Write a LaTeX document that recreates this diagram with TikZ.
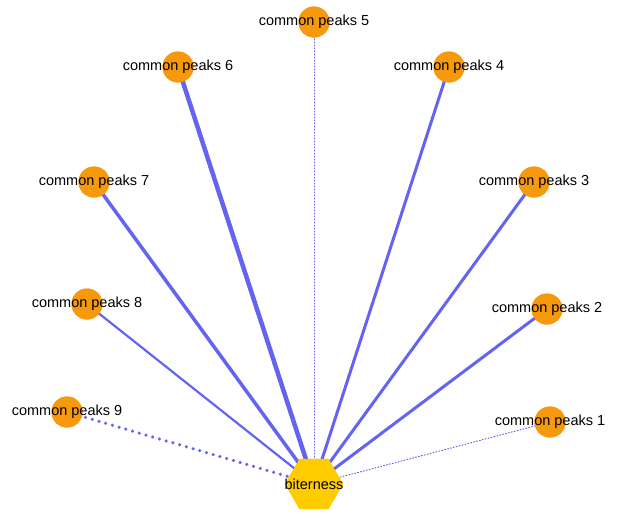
\documentclass[tikz,border=0pt]{standalone}
\usepackage{fontspec}
\setmainfont{Liberation Sans}
\usetikzlibrary{shapes.geometric}
\definecolor{edgeblue}{HTML}{6464F0}
\definecolor{peakorange}{HTML}{F7990C}
\definecolor{hubyellow}{HTML}{FFCC00}
\begin{document}
\begin{tikzpicture}[x=1pt,y=-1pt,font=\fontsize{14.5}{17}\selectfont,
    peak/.style={circle,fill=peakorange,minimum size=31pt,inner sep=0},
    lbl/.style={inner sep=0},
    link/.style={edgeblue,line cap=round}]
        \useasboundingbox (0,0) rectangle (624,525);

        % Hub
        \node[regular polygon, regular polygon sides=6,
            fill=hubyellow, minimum size=58pt, inner sep=0] (hub) at (314,484) {};

        % Peaks
        \node[peak] (p1) at (550,422) {};
        \node[peak] (p2) at (547,309) {};
        \node[peak] (p3) at (534,182) {};
        \node[peak] (p4) at (449,67) {};
        \node[peak] (p5) at (314,22) {};
        \node[peak] (p6) at (178,67) {};
        \node[peak] (p7) at (94,182) {};
        \node[peak] (p8) at (87,304) {};
        \node[peak] (p9) at (67,412) {};

        % Links
        \begin{scope}[on background layer/.style={}]
        \draw[link,line width=1pt,dotted] (hub.center) -- (p1.center);
        \draw[link,line width=3pt] (hub.center) -- (p2.center);
        \draw[link,line width=3pt] (hub.center) -- (p3.center);
        \draw[link,line width=3pt] (hub.center) -- (p4.center);
        \draw[link,line width=1pt,dotted] (hub.center) -- (p5.center);
        \draw[link,line width=4.5pt] (hub.center) -- (p6.center);
        \draw[link,line width=3.5pt] (hub.center) -- (p7.center);
        \draw[link,line width=2.2pt] (hub.center) -- (p8.center);
        \draw[link,line width=3.5pt,dash pattern=on 0pt off 7pt] (hub.center) -- (p9.center);
        \end{scope}

        % Redraw nodes on top of links
        \node[regular polygon, regular polygon sides=6,
            fill=hubyellow, minimum size=58pt, inner sep=0] at (hub) {};
        \foreach \i in {1,...,9} {
            \fill[peakorange] (p\i) circle (15.5pt);
            \node[lbl] (t\i) at (p\i) {common peaks \i};
        }
        \node[lbl] (thub) at (hub) {biterness};
\end{tikzpicture}
\end{document}
